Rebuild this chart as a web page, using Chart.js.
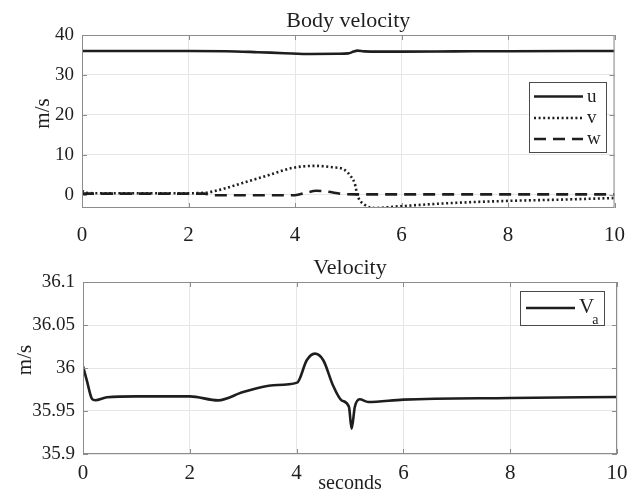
<!DOCTYPE html>
<html>
<head>
<meta charset="utf-8">
<script src="https://cdn.jsdelivr.net/npm/chart.js@4.4.1/dist/chart.umd.min.js"></script>
<style>
  body { margin: 0; background: #fff; }
  canvas { position: absolute; left: 0; }
</style>
</head>
<body>
<canvas id="chartBody" width="640" height="245" style="top:0"></canvas>
<canvas id="chartVa" width="640" height="246" style="top:245px"></canvas>
<script>
// --- data ---
var xTicks = [0, 2, 4, 6, 8, 10];

var t_u = [0, 1, 2, 2.7, 3.3, 3.8, 4.3, 4.8, 5.0, 5.1, 5.17, 5.3, 5.6, 6, 7, 8, 10];
var u   = [36, 36, 36, 35.95, 35.7, 35.45, 35.25, 35.3, 35.4, 35.85, 36.1, 35.9, 35.85, 35.85, 35.9, 35.95, 36];

var t_v = [0, 0.08, 0.3, 1, 2, 2.3, 2.6, 3.0, 3.5, 3.94, 4.37, 4.7, 4.93, 5.05, 5.12, 5.18, 5.31, 5.5, 5.93, 6.87, 8.05, 9, 10];
var v   = [1.0, 0.5, 0.4, 0.4, 0.4, 0.5, 1.3, 2.9, 4.9, 6.7, 7.25, 6.9, 6.25, 4.6, 2.9, -0.4, -2.5, -3.3, -2.9, -2.1, -1.5, -1.2, -0.8];

var t_w = [0, 2.3, 2.45, 4.0, 4.2, 4.4, 4.6, 4.9, 5.2, 10];
var w   = [0.3, 0.3, -0.1, -0.1, 0.5, 1.0, 0.8, 0.2, 0.1, 0.1];

var bodyYTicks = [0, 10, 20, 30, 40];

var t_va = [0, 0.07, 0.17, 0.23, 0.45, 1, 2, 2.53, 3.0, 3.56, 4.01, 4.19, 4.34, 4.5, 4.68, 4.84, 4.98, 5.03, 5.09, 5.18, 5.34, 6, 8, 10];
var va   = [36.002, 35.986, 35.964, 35.9625, 35.966, 35.967, 35.967, 35.9624, 35.972, 35.980, 35.983, 36.009, 36.0167, 36.009, 35.980, 35.9625, 35.955, 35.9295, 35.9547, 35.9636, 35.9605, 35.9632, 35.9651, 35.9663];

var vaYTicks = [35.9, 35.95, 36, 36.05, 36.1];

function pts(t, y) {
  return t.map(function (x, i) { return { x: x, y: y[i] }; });
}

var serif = 'Liberation Serif, "Times New Roman", serif';
var ink = '#1e1e1e';
var frame = '#8c8c8c';

// MATLAB-ish decoration: full box, inward ticks, title, ylabel, legend
var matlabBox = {
  id: 'matlabBox',
  afterDraw: function (chart, args, opts) {
    var ctx = chart.ctx, a = chart.chartArea;
    var xs = chart.scales.x, ys = chart.scales.y;
    ctx.save();
    ctx.strokeStyle = frame;
    ctx.lineWidth = 1;
    ctx.strokeRect(a.left + 0.5, a.top + 0.5, a.right - a.left - 1, a.bottom - a.top - 1);
    ctx.beginPath();
    xs.ticks.forEach(function (t) {
      var px = Math.round(xs.getPixelForValue(t.value)) + 0.5;
      ctx.moveTo(px, a.bottom); ctx.lineTo(px, a.bottom - 5);
      ctx.moveTo(px, a.top); ctx.lineTo(px, a.top + 5);
    });
    ys.ticks.forEach(function (t) {
      var py = Math.round(ys.getPixelForValue(t.value)) + 0.5;
      ctx.moveTo(a.left, py); ctx.lineTo(a.left + 5, py);
      ctx.moveTo(a.right, py); ctx.lineTo(a.right - 5, py);
    });
    ctx.stroke();

    ctx.fillStyle = ink;
    ctx.textAlign = 'center';
    ctx.textBaseline = 'alphabetic';
    ctx.font = '22px ' + serif;
    ctx.fillText(opts.title, (a.left + a.right) / 2, a.top - 8);

    if (opts.xlabel) {
      ctx.font = '20px ' + serif;
      ctx.fillText(opts.xlabel, (a.left + a.right) / 2, opts.xlabelY);
    }

    ctx.save();
    ctx.translate(opts.ylabelX, (a.top + a.bottom) / 2 - 8);
    ctx.rotate(-Math.PI / 2);
    ctx.textBaseline = 'middle';
    ctx.font = '21px ' + serif;
    ctx.fillText(opts.ylabel, 0, 0);
    ctx.restore();

    // legend
    var lg = opts.legend;
    ctx.fillStyle = '#fff';
    ctx.fillRect(lg.box[0], lg.box[1], lg.box[2], lg.box[3]);
    ctx.strokeStyle = '#4a4a4a';
    ctx.strokeRect(lg.box[0] + 0.5, lg.box[1] + 0.5, lg.box[2], lg.box[3]);
    lg.rows.forEach(function (r, i) {
      var ds = chart.data.datasets[i];
      ctx.strokeStyle = ds.borderColor;
      ctx.lineWidth = ds.borderWidth;
      ctx.setLineDash(ds.borderDash || []);
      ctx.beginPath();
      ctx.moveTo(lg.x0, r.y); ctx.lineTo(lg.x1, r.y);
      ctx.stroke();
      ctx.setLineDash([]);
      ctx.fillStyle = ink;
      ctx.textAlign = 'left';
      ctx.textBaseline = 'alphabetic';
      ctx.font = lg.size + 'px ' + serif;
      ctx.fillText(r.label, lg.tx, r.y + lg.dy);
      if (r.sub) {
        var wlab = ctx.measureText(r.label).width;
        ctx.font = '14px ' + serif;
        ctx.fillText(r.sub, lg.tx + wlab - 2, r.y + lg.dy + 11);
      }
    });
    ctx.restore();
  }
};

function xAxis(pad, h) {
  return {
    type: 'linear', min: 0, max: 10,
    afterBuildTicks: function (s) { s.ticks = xTicks.map(function (x) { return { value: x }; }); },
    afterFit: function (s) { s.height = h; },
    grid: { color: '#e6e6e6', drawTicks: false },
    border: { display: false },
    ticks: { color: ink, padding: pad, maxRotation: 0, font: { family: serif, size: 21 } }
  };
}

function yAxis(min, max, list, w, fmt) {
  return {
    type: 'linear', min: min, max: max,
    afterBuildTicks: function (s) { s.ticks = list.map(function (y) { return { value: y }; }); },
    afterFit: function (s) { s.width = w; },
    grid: { color: '#e6e6e6', drawTicks: false },
    border: { display: false },
    ticks: { color: ink, padding: 8, font: { family: serif, size: 19 }, callback: fmt }
  };
}

Chart.defaults.font.family = serif;

new Chart(document.getElementById('chartBody'), {
  type: 'line',
  data: {
    datasets: [
      { label: 'u', data: pts(t_u, u), borderColor: ink, borderWidth: 2.6 },
      { label: 'v', data: pts(t_v, v), borderColor: ink, borderWidth: 2.6, borderDash: [2, 2.6] },
      { label: 'w', data: pts(t_w, w), borderColor: ink, borderWidth: 2.6, borderDash: [12, 7] }
    ]
  },
  options: {
    responsive: false,
    animation: false,
    devicePixelRatio: 1,
    layout: { padding: { top: 35, right: 23, left: 0, bottom: 0 } },
    elements: { point: { radius: 0 }, line: { cubicInterpolationMode: 'monotone' } },
    scales: {
      x: xAxis(15, 37),
      y: yAxis(-3.3, 40, bodyYTicks, 82, function (val) { return String(val); })
    },
    plugins: {
      legend: { display: false },
      tooltip: { enabled: false },
      matlabBox: {
        title: 'Body velocity', ylabel: 'm/s', ylabelX: 43,
        legend: {
          box: [529, 82, 77, 70], x0: 534, x1: 583, tx: 587, dy: 5, size: 19,
          rows: [{ label: 'u', y: 96.5 }, { label: 'v', y: 118 }, { label: 'w', y: 139 }]
        }
      }
    }
  },
  plugins: [matlabBox]
});

new Chart(document.getElementById('chartVa'), {
  type: 'line',
  data: {
    datasets: [
      { label: 'V_a', data: pts(t_va, va), borderColor: ink, borderWidth: 2.6 }
    ]
  },
  options: {
    responsive: false,
    animation: false,
    devicePixelRatio: 1,
    layout: { padding: { top: 37, right: 23, left: 0, bottom: 0 } },
    elements: { point: { radius: 0 }, line: { cubicInterpolationMode: 'monotone' } },
    scales: {
      x: xAxis(7, 37),
      y: yAxis(35.9, 36.1, vaYTicks, 83, function (val) { return String(Math.round(val * 100) / 100); })
    },
    plugins: {
      legend: { display: false },
      tooltip: { enabled: false },
      matlabBox: {
        title: 'Velocity', ylabel: 'm/s', ylabelX: 25, xlabel: 'seconds', xlabelY: 244,
        legend: {
          box: [520, 46, 84, 34], x0: 526, x1: 575, tx: 579, dy: 5, size: 21,
          rows: [{ label: 'V', sub: 'a', y: 63 }]
        }
      }
    }
  },
  plugins: [matlabBox]
});
</script>
</body>
</html>
